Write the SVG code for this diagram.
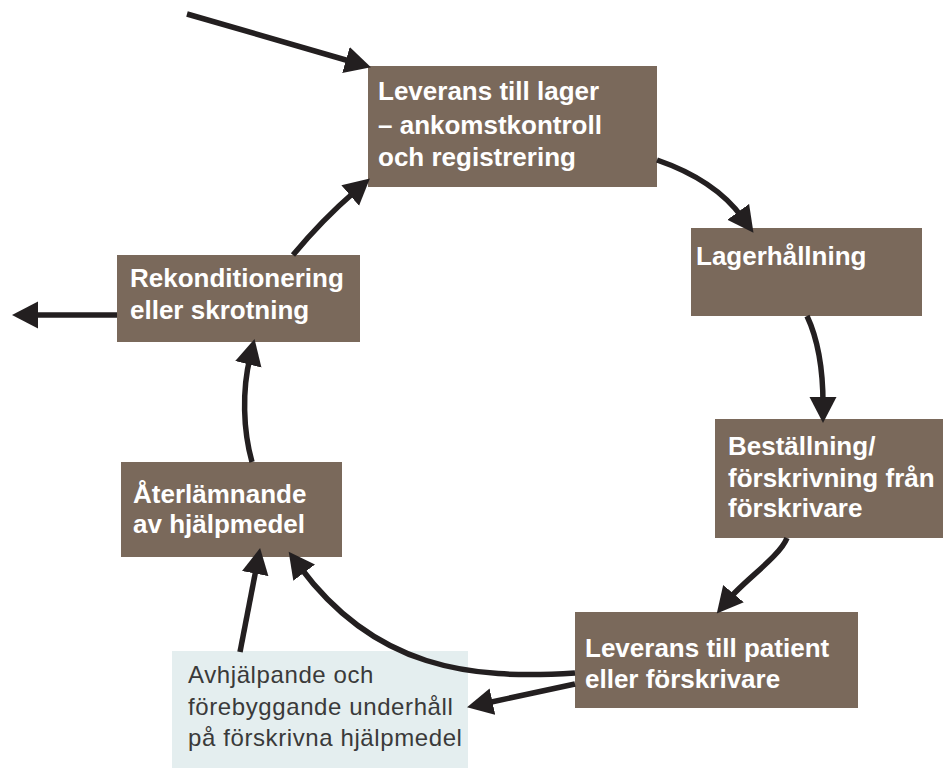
<svg xmlns="http://www.w3.org/2000/svg" width="945" height="768" viewBox="0 0 945 768">
<defs>
<marker id="ah" markerUnits="userSpaceOnUse" markerWidth="27" markerHeight="28" refX="7" refY="13.5" orient="auto">
<path d="M0,0 L26,13.5 L0,27 z" fill="#231f20"/>
</marker>
<style>
.box{fill:#7a695b}
.lbox{fill:#e4eeef}
.t{font-family:"Liberation Sans",Arial,sans-serif;font-weight:bold;font-size:26px;fill:#ffffff}
.lt{font-family:"Liberation Sans",Arial,sans-serif;font-size:24px;letter-spacing:0.6px;fill:#3a3a3a}
.c{fill:none;stroke:#231f20;stroke-width:5.5;marker-end:url(#ah)}
</style>
</defs>
<rect width="945" height="768" fill="#ffffff"/>
<g id="n1"><rect class="box" x="368" y="66" width="289" height="121"/>
<text class="t" x="378" y="100">Leverans till lager</text>
<text class="t" x="378" y="134">– ankomstkontroll</text>
<text class="t" x="378" y="166">och registrering</text></g>
<g id="n2"><rect class="box" x="691" y="228" width="231" height="88"/>
<text class="t" x="696" y="265">Lagerhållning</text></g>
<g id="n3"><rect class="box" x="715" y="419" width="228" height="119"/>
<text class="t" x="728" y="455">Beställning/</text>
<text class="t" x="728" y="487">förskrivning från</text>
<text class="t" x="728" y="517">förskrivare</text></g>
<g id="n4"><rect class="box" x="575" y="612" width="283" height="96"/>
<text class="t" x="585" y="657">Leverans till patient</text>
<text class="t" x="585" y="688">eller förskrivare</text></g>
<g id="n5"><rect class="box" x="121" y="462" width="221" height="95"/>
<text class="t" x="133" y="503">Återlämnande</text>
<text class="t" x="133" y="533">av hjälpmedel</text></g>
<g id="n6"><rect class="box" x="117" y="255" width="243" height="87"/>
<text class="t" x="130" y="287">Rekonditionering</text>
<text class="t" x="130" y="319">eller skrotning</text></g>
<g id="n7"><rect class="lbox" x="172" y="651" width="296" height="117"/>
<text class="lt" x="188" y="683">Avhjälpande och</text>
<text class="lt" x="188" y="715">förebyggande underhåll</text>
<text class="lt" x="188" y="746">på förskrivna hjälpmedel</text></g>
<g id="connectors">
<path class="c" d="M187,14 L352.7,62"/>
<path class="c" d="M657,160 Q715,180 742.3,217.5"/>
<path class="c" d="M807,316 Q823,350 823,404"/>
<path class="c" d="M787,538 C780,556 745,580 729,599"/>
<path class="c" d="M575,673 C470,680 375,668 300,567"/>
<path class="c" d="M575,684 L485.6,703.2"/>
<path class="c" d="M240,652 L256.5,566.7"/>
<path class="c" d="M252,462 C243,430 242,390 250,357.5"/>
<path class="c" d="M293,255 Q322,220 355.5,191"/>
<path class="c" d="M117,315 L31,315"/>
</g>
</svg>
